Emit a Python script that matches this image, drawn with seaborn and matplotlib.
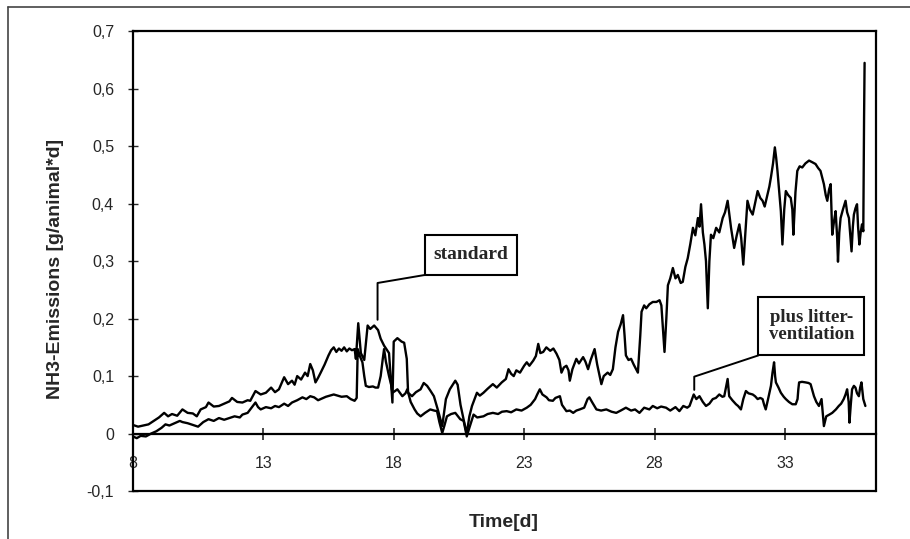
import matplotlib
matplotlib.use("Agg")
import matplotlib.pyplot as plt
import seaborn as sns
from matplotlib.patches import Rectangle
from matplotlib.lines import Line2D

std_days = [8.0, 8.2, 8.4, 8.6, 8.8, 9.0, 9.2, 9.35, 9.5, 9.7, 9.9, 10.1, 10.3, 10.45, 10.6, 10.8, 10.9,
            11.1, 11.3, 11.5, 11.7, 11.8, 12.0, 12.2, 12.4, 12.5, 12.7, 12.9, 13.1, 13.3, 13.45, 13.6, 13.8,
            13.95, 14.1, 14.2, 14.3, 14.45, 14.6, 14.7, 14.8, 14.9, 15.0, 15.1, 15.2, 15.35, 15.5, 15.6,
            15.7, 15.8, 15.9, 16.0, 16.1, 16.2, 16.3, 16.4, 16.5, 16.55, 16.64, 16.74, 16.87, 17.0, 17.1,
            17.25, 17.4, 17.5, 17.63, 17.75, 17.82, 17.95, 18.0, 18.14, 18.3, 18.4, 18.5, 18.55, 18.7,
            18.85, 19.03, 19.15, 19.28, 19.4, 19.54, 19.7, 19.86, 20.0, 20.15, 20.36, 20.45, 20.56, 20.7,
            20.8, 20.9, 21.0, 21.19, 21.3, 21.44, 21.6, 21.8, 21.95, 22.14, 22.3, 22.4, 22.5, 22.6, 22.7,
            22.84, 23.0, 23.1, 23.2, 23.35, 23.45, 23.54, 23.62, 23.73, 23.85, 24.0, 24.12, 24.24, 24.35,
            24.43, 24.52, 24.62, 24.7, 24.75, 24.85, 25.0, 25.1, 25.26, 25.35, 25.45, 25.55, 25.7, 25.8,
            25.96, 26.05, 26.2, 26.3, 26.4, 26.5, 26.6, 26.7, 26.79, 26.85, 26.9, 27.0, 27.1, 27.2, 27.36,
            27.45, 27.5, 27.6, 27.68, 27.8, 27.93, 28.07, 28.19, 28.26, 28.38, 28.45, 28.51, 28.6, 28.7,
            28.8, 28.89, 29.0, 29.08, 29.18, 29.27, 29.37, 29.47, 29.56, 29.66, 29.72, 29.78, 29.85, 29.91,
            29.97, 30.04, 30.1, 30.16, 30.25, 30.36, 30.48, 30.61, 30.7, 30.8, 30.87, 30.93, 31.05, 31.15,
            31.25, 31.32, 31.4, 31.48, 31.56, 31.65, 31.76, 31.85, 31.95, 32.05, 32.14, 32.22, 32.33, 32.4,
            32.46, 32.54, 32.61, 32.66, 32.71, 32.78, 32.84, 32.9, 32.97, 33.03, 33.12, 33.22, 33.28, 33.32,
            33.4, 33.47, 33.56, 33.66, 33.78, 33.92, 34.05, 34.17, 34.27, 34.36, 34.43, 34.49, 34.56, 34.62,
            34.69, 34.75, 34.81, 34.88, 34.94, 35.0, 35.03, 35.08, 35.13, 35.22, 35.32, 35.38, 35.45, 35.55,
            35.6, 35.64, 35.7, 35.76, 35.8, 35.85, 35.9, 35.95, 36.0, 36.03, 36.05]
std_vals = [0.015, 0.012, 0.014, 0.016, 0.022, 0.028, 0.036, 0.030, 0.034, 0.031, 0.042, 0.036, 0.035, 0.030,
            0.042, 0.046, 0.054, 0.047, 0.048, 0.052, 0.056, 0.062, 0.055, 0.054, 0.058, 0.057, 0.074, 0.068,
            0.071, 0.080, 0.072, 0.077, 0.098, 0.086, 0.092, 0.085, 0.100, 0.094, 0.106, 0.100, 0.121, 0.110,
            0.089, 0.097, 0.106, 0.120, 0.136, 0.145, 0.150, 0.142, 0.148, 0.144, 0.150, 0.143, 0.148, 0.145,
            0.147, 0.130, 0.192, 0.140, 0.128, 0.188, 0.182, 0.188, 0.180, 0.165, 0.153, 0.145, 0.140, 0.054,
            0.160, 0.166, 0.160, 0.158, 0.130, 0.071, 0.065, 0.072, 0.077, 0.088, 0.083, 0.075, 0.065, 0.040,
            0.013, 0.060, 0.077, 0.092, 0.085, 0.050, 0.020, 0.000, 0.030, 0.048, 0.071, 0.066, 0.071, 0.078,
            0.086, 0.080, 0.089, 0.095, 0.112, 0.104, 0.100, 0.110, 0.106, 0.118, 0.124, 0.118, 0.127, 0.135,
            0.156, 0.140, 0.142, 0.150, 0.144, 0.148, 0.139, 0.128, 0.106, 0.115, 0.118, 0.110, 0.092, 0.112,
            0.130, 0.122, 0.133, 0.125, 0.112, 0.128, 0.147, 0.120, 0.086, 0.100, 0.106, 0.102, 0.112, 0.150,
            0.177, 0.190, 0.206, 0.170, 0.136, 0.128, 0.130, 0.120, 0.106, 0.170, 0.212, 0.223, 0.218, 0.225,
            0.229, 0.229, 0.232, 0.223, 0.142, 0.200, 0.258, 0.270, 0.288, 0.270, 0.276, 0.262, 0.264, 0.290,
            0.305, 0.330, 0.358, 0.345, 0.375, 0.360, 0.399, 0.350, 0.329, 0.300, 0.218, 0.300, 0.346, 0.340,
            0.358, 0.350, 0.375, 0.385, 0.405, 0.380, 0.358, 0.323, 0.345, 0.364, 0.340, 0.294, 0.350, 0.405,
            0.390, 0.381, 0.400, 0.422, 0.410, 0.405, 0.395, 0.416, 0.430, 0.446, 0.470, 0.498, 0.480, 0.457,
            0.420, 0.387, 0.329, 0.390, 0.422, 0.415, 0.410, 0.390, 0.346, 0.420, 0.457, 0.465, 0.463, 0.470,
            0.475, 0.472, 0.469, 0.462, 0.457, 0.445, 0.434, 0.415, 0.405, 0.425, 0.434, 0.346, 0.370, 0.387,
            0.340, 0.299, 0.350, 0.375, 0.390, 0.405, 0.385, 0.375, 0.317, 0.360, 0.381, 0.392, 0.399, 0.360,
            0.329, 0.350, 0.364, 0.352, 0.550, 0.645]

vent_days = [8.0, 8.15, 8.3, 8.5, 8.7, 8.9, 9.1, 9.25, 9.4, 9.6, 9.8, 9.9, 10.1, 10.3, 10.5, 10.7, 10.9, 11.1,
             11.3, 11.5, 11.7, 11.9, 12.1, 12.2, 12.4, 12.55, 12.7, 12.8, 12.9, 13.1, 13.3, 13.45, 13.6, 13.8,
             13.95, 14.1, 14.3, 14.5, 14.65, 14.8, 14.95, 15.1, 15.2, 15.4, 15.55, 15.7, 15.85, 16.0, 16.2,
             16.35, 16.5, 16.58, 16.62, 16.7, 16.8, 16.87, 16.93, 17.05, 17.2, 17.3, 17.4, 17.5, 17.58, 17.63,
             17.7, 17.82, 17.9, 17.95, 18.05, 18.14, 18.25, 18.33, 18.45, 18.52, 18.65, 18.8, 18.9, 19.03,
             19.2, 19.4, 19.55, 19.66, 19.75, 19.86, 19.95, 20.04, 20.2, 20.36, 20.55, 20.68, 20.8, 20.9,
             21.06, 21.2, 21.44, 21.6, 21.8, 22.0, 22.15, 22.33, 22.5, 22.7, 22.9, 23.1, 23.25, 23.42, 23.5,
             23.6, 23.7, 23.86, 23.95, 24.1, 24.2, 24.37, 24.45, 24.62, 24.75, 24.88, 25.0, 25.13, 25.3,
             25.43, 25.5, 25.6, 25.77, 25.95, 26.15, 26.35, 26.53, 26.7, 26.9, 27.1, 27.25, 27.42, 27.6, 27.8,
             27.93, 28.1, 28.25, 28.44, 28.6, 28.8, 28.95, 29.1, 29.25, 29.34, 29.5, 29.6, 29.72, 29.85,
             29.97, 30.1, 30.23, 30.35, 30.48, 30.6, 30.67, 30.8, 30.86, 30.98, 31.12, 31.2, 31.31, 31.4,
             31.5, 31.6, 31.76, 31.85, 31.95, 32.05, 32.14, 32.2, 32.26, 32.35, 32.46, 32.52, 32.58, 32.62,
             32.65, 32.75, 32.84, 32.95, 33.03, 33.15, 33.28, 33.41, 33.48, 33.51, 33.54, 33.65, 33.79, 33.9,
             33.98, 34.05, 34.11, 34.2, 34.3, 34.4, 34.45, 34.49, 34.58, 34.7, 34.81, 34.95, 35.06, 35.15,
             35.25, 35.32, 35.38, 35.44, 35.47, 35.52, 35.57, 35.64, 35.7, 35.76, 35.83, 35.88, 35.93, 36.0,
             36.08]
vent_vals = [-0.005, -0.008, -0.004, -0.005, 0.000, 0.004, 0.010, 0.016, 0.014, 0.018, 0.022, 0.020, 0.018,
             0.015, 0.012, 0.020, 0.025, 0.022, 0.027, 0.024, 0.027, 0.030, 0.028, 0.033, 0.036, 0.045, 0.054,
             0.046, 0.042, 0.046, 0.044, 0.048, 0.046, 0.052, 0.048, 0.054, 0.058, 0.063, 0.060, 0.065, 0.063,
             0.058, 0.060, 0.064, 0.066, 0.068, 0.066, 0.064, 0.065, 0.060, 0.057, 0.062, 0.147, 0.135, 0.124,
             0.100, 0.083, 0.081, 0.082, 0.080, 0.080, 0.100, 0.130, 0.147, 0.125, 0.100, 0.085, 0.071, 0.074,
             0.077, 0.070, 0.065, 0.070, 0.077, 0.055, 0.042, 0.035, 0.030, 0.036, 0.042, 0.040, 0.039, 0.020,
             0.001, 0.015, 0.030, 0.034, 0.036, 0.025, 0.022, -0.005, 0.010, 0.033, 0.028, 0.030, 0.034, 0.036,
             0.034, 0.038, 0.039, 0.037, 0.042, 0.040, 0.045, 0.050, 0.060, 0.068, 0.077, 0.068, 0.063, 0.058,
             0.057, 0.062, 0.065, 0.050, 0.039, 0.040, 0.036, 0.040, 0.042, 0.045, 0.060, 0.063, 0.055, 0.042,
             0.040, 0.042, 0.038, 0.036, 0.040, 0.045, 0.040, 0.042, 0.036, 0.045, 0.042, 0.048, 0.044, 0.047,
             0.045, 0.040, 0.046, 0.039, 0.048, 0.045, 0.048, 0.068, 0.060, 0.065, 0.055, 0.048, 0.052, 0.060,
             0.062, 0.068, 0.064, 0.065, 0.095, 0.065, 0.058, 0.051, 0.048, 0.042, 0.060, 0.074, 0.070, 0.068,
             0.065, 0.060, 0.062, 0.060, 0.050, 0.042, 0.060, 0.083, 0.106, 0.124, 0.100, 0.089, 0.080, 0.071,
             0.064, 0.060, 0.055, 0.051, 0.051, 0.060, 0.077, 0.089, 0.090, 0.089, 0.088, 0.086, 0.075, 0.065,
             0.055, 0.048, 0.060, 0.035, 0.013, 0.030, 0.033, 0.036, 0.042, 0.048, 0.052, 0.060, 0.068, 0.077,
             0.055, 0.019, 0.050, 0.077, 0.083, 0.080, 0.070, 0.065, 0.080, 0.089, 0.060, 0.048]

x_ticks = [8, 13, 18, 23, 28, 33]
y_ticks = [-0.1, 0, 0.1, 0.2, 0.3, 0.4, 0.5, 0.6, 0.7]
y_ticklabels = ["-0,1", "0", "0,1", "0,2", "0,3", "0,4", "0,5", "0,6", "0,7"]

sns.set_theme(style="white")
plt.rcParams['font.family'] = ['Liberation Sans', 'DejaVu Sans']

fig = plt.figure(figsize=(9.1, 5.39), dpi=100)
ax = fig.add_axes([0.146, 0.089, 0.817, 0.853])

sns.lineplot(x=std_days, y=std_vals, ax=ax, color="black", linewidth=1.7, estimator=None, sort=False)
sns.lineplot(x=vent_days, y=vent_vals, ax=ax, color="black", linewidth=1.7, estimator=None, sort=False)

ax.set_xlim(8, 36.5)
ax.set_ylim(-0.1, 0.7)

# x-Achse liegt auf der Nulllinie
ax.spines['bottom'].set_position(('data', 0))
ax.axhline(-0.1, color="black", lw=1.6, clip_on=False)
for s in ax.spines.values():
    s.set_color("black")
    s.set_linewidth(1.6)

ax.set_xticks(x_ticks)
ax.set_xticklabels([str(t) for t in x_ticks])
ax.set_yticks(y_ticks)
ax.set_yticklabels(y_ticklabels)
ax.tick_params(axis='x', direction='inout', length=9, width=1.2, pad=12, labelsize=11.5, bottom=True)
ax.tick_params(axis='y', direction='inout', length=7, width=1.0, pad=10, labelsize=11.5, left=True)

ax.set_xlabel("")
ax.set_ylabel("NH3-Emissions [g/animal*d]", fontsize=14, fontweight="bold")
ax.yaxis.set_label_coords(-0.092, 0.484)
fig.text(0.554, 0.031, "Time[d]", ha="center", va="center", fontsize=14, fontweight="bold")

# Beschriftungen mit Kasten
ax.add_patch(Rectangle((19.2, 0.276), 3.52, 0.07, fill=False, edgecolor="black", lw=1.5))
ax.text(20.96, 0.311, "standard", ha="center", va="center", fontsize=14, fontweight="bold",
        family=["Liberation Serif"])
ax.plot([19.2, 17.38, 17.38], [0.276, 0.262, 0.198], color="black", lw=1.4)

ax.add_patch(Rectangle((31.98, 0.136), 4.06, 0.101, fill=False, edgecolor="black", lw=1.5))
ax.text(34.01, 0.187, "plus litter-\nventilation", ha="center", va="center", fontsize=13.5,
        fontweight="bold", family=["Liberation Serif"], linespacing=1.0)
ax.plot([31.98, 29.52, 29.52], [0.136, 0.099, 0.076], color="black", lw=1.4)

# aeusserer Rahmen
fig.add_artist(Line2D([8 / 910, 8 / 910], [0, 1 - 7 / 539], color="#444444", lw=1.2))
fig.add_artist(Line2D([8 / 910, 1], [1 - 7 / 539, 1 - 7 / 539], color="#444444", lw=1.2))

plt.savefig("out.png", dpi=100)
